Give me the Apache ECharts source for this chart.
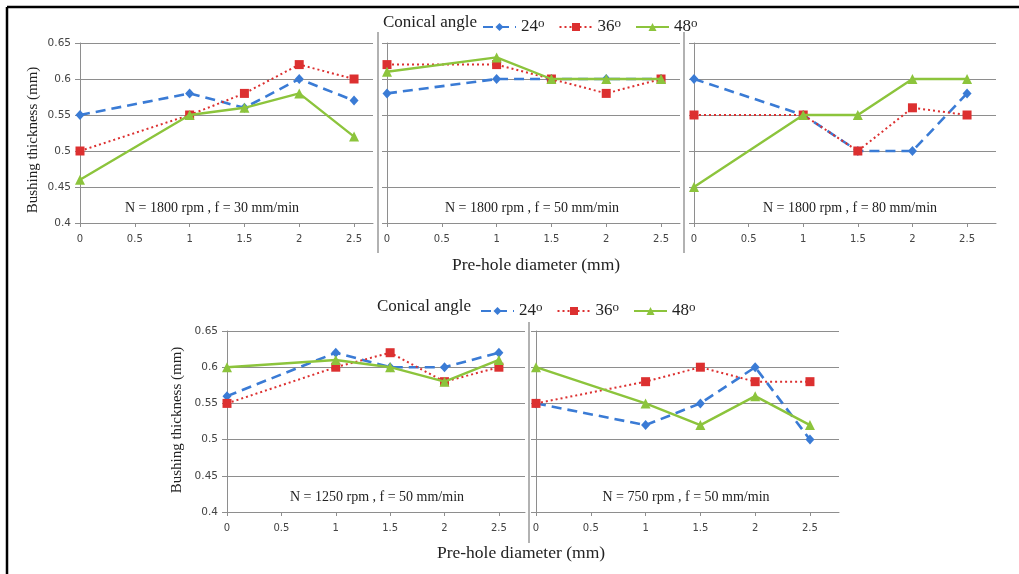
<!DOCTYPE html>
<html>
<head>
<meta charset="utf-8" />
<title>Bushing thickness vs pre-hole diameter</title>
<style>
    html, body { margin: 0; padding: 0; background: #fff; }
    #chart { width: 1019px; height: 574px; }
</style>
</head>
<body>
<div id="chart"></div>
<script src="https://cdn.jsdelivr.net/npm/echarts@6/dist/echarts.min.js"></script>
<script>
    // pre-hole diameter (mm) where thickness was measured
    var diameters = [0, 1, 1.5, 2, 2.5];
    // axis ticks
    var xTicks = [0, 0.5, 1, 1.5, 2, 2.5];
    var yTicks = [0.4, 0.45, 0.5, 0.55, 0.6, 0.65];
    // conical angles (deg)
    var angles = ['24', '36', '48'];
    // panel captions
    var captions = [
        'N = 1800 rpm , f = 30 mm/min',
        'N = 1800 rpm , f = 50 mm/min',
        'N = 1800 rpm , f = 80 mm/min',
        'N = 1250 rpm , f = 50 mm/min',
        'N = 750 rpm , f = 50 mm/min'
    ];

    // bushing thickness (mm)
    var n1800f30_24 = [0.55, 0.58, 0.56, 0.60, 0.57];
    var n1800f30_36 = [0.50, 0.55, 0.58, 0.62, 0.60];
    var n1800f30_48 = [0.46, 0.55, 0.56, 0.58, 0.52];

    var n1800f50_24 = [0.58, 0.60, 0.60, 0.60, 0.60];
    var n1800f50_36 = [0.62, 0.62, 0.60, 0.58, 0.60];
    var n1800f50_48 = [0.61, 0.63, 0.60, 0.60, 0.60];

    var n1800f80_24 = [0.60, 0.55, 0.50, 0.50, 0.58];
    var n1800f80_36 = [0.55, 0.55, 0.50, 0.56, 0.55];
    var n1800f80_48 = [0.45, 0.55, 0.55, 0.60, 0.60];

    var n1250f50_24 = [0.56, 0.62, 0.60, 0.60, 0.62];
    var n1250f50_36 = [0.55, 0.60, 0.62, 0.58, 0.60];
    var n1250f50_48 = [0.60, 0.61, 0.60, 0.58, 0.61];

    var n750f50_24 = [0.55, 0.52, 0.55, 0.60, 0.50];
    var n750f50_36 = [0.55, 0.58, 0.60, 0.58, 0.58];
    var n750f50_48 = [0.60, 0.55, 0.52, 0.56, 0.52];

    var panelData = [
        [n1800f30_24, n1800f30_36, n1800f30_48],
        [n1800f50_24, n1800f50_36, n1800f50_48],
        [n1800f80_24, n1800f80_36, n1800f80_48],
        [n1250f50_24, n1250f50_36, n1250f50_48],
        [n750f50_24, n750f50_36, n750f50_48]
    ];

    // panel placement
    var panels = [
        { left: 80,  top: 43,  width: 293, height: 180, xMax: 2.673, yLabels: true,  capX: 212 },
        { left: 387, top: 43,  width: 293, height: 180, xMax: 2.673, yLabels: false, capX: 532 },
        { left: 694, top: 43,  width: 302, height: 180, xMax: 2.765, yLabels: false, capX: 850 },
        { left: 227, top: 331, width: 298, height: 181, xMax: 2.74,  yLabels: true,  capX: 377 },
        { left: 536, top: 331, width: 303, height: 181, xMax: 2.765, yLabels: false, capX: 686 }
    ];

    var colors = ['#3a7bd5', '#dc3030', '#8cc43c'];
    var lineTypes = [[10, 6], [2, 3], 'solid'];
    var lineWidths = [2.6, 2, 2.4];
    var symbols = ['diamond', 'rect', 'triangle'];
    var symbolSizes = [[9, 10], 9, 10];

    var gridColor = '#8e8e8e';
    var serif = '"Liberation Serif", "DejaVu Serif", serif';
    var sans = '"DejaVu Sans", Verdana, sans-serif';

    var grids = [], xAxes = [], yAxes = [], series = [], graphics = [];

    panels.forEach(function (p, i) {
        grids.push({ left: p.left, top: p.top, width: p.width, height: p.height, containLabel: false });
        xAxes.push({
            type: 'value', gridIndex: i, min: 0, max: p.xMax,
            splitLine: { show: false },
            axisLine: { show: true, onZero: false, lineStyle: { color: gridColor, width: 1 } },
            axisTick: { show: true, length: 4, customValues: xTicks, lineStyle: { color: gridColor } },
            axisLabel: {
                customValues: xTicks, margin: 11, color: '#444', fontFamily: sans, fontSize: 10,
                formatter: function (v) {
                    return Math.abs(v * 2 - Math.round(v * 2)) < 1e-6 ? String(v) : '';
                }
            }
        });
        yAxes.push({
            type: 'value', gridIndex: i, min: 0.4, max: 0.65, interval: 0.05,
            splitLine: { show: true, lineStyle: { color: gridColor, width: 1 } },
            axisLine: { show: true, lineStyle: { color: gridColor, width: 1 } },
            axisTick: { show: true, length: 5, lineStyle: { color: gridColor } },
            axisLabel: {
                show: p.yLabels, margin: 9, color: '#444', fontFamily: sans, fontSize: 10.5,
                formatter: function (v) { return String(+v.toFixed(2)); }
            }
        });
        panelData[i].forEach(function (vals, k) {
            series.push({
                name: angles[k], type: 'line', xAxisIndex: i, yAxisIndex: i,
                data: diameters.map(function (d, j) { return [d, vals[j]]; }),
                symbol: symbols[k], symbolSize: symbolSizes[k], showAllSymbol: true,
                color: colors[k],
                itemStyle: { color: colors[k] },
                lineStyle: { color: colors[k], width: lineWidths[k], type: lineTypes[k] },
                z: 2 + k, animation: false
            });
        });
        graphics.push({
            type: 'text', x: p.capX, y: p.top + p.height - 15,
            style: { text: captions[i], font: '14px ' + serif, fill: '#222', textAlign: 'center', textVerticalAlign: 'middle' }
        });
    });

    // axis titles
    graphics.push(
        { type: 'text', x: 33, y: 140, rotation: Math.PI / 2,
          style: { text: 'Bushing thickness (mm)', font: '15px ' + serif, fill: '#222', textAlign: 'center', textVerticalAlign: 'middle' } },
        { type: 'text', x: 177, y: 420, rotation: Math.PI / 2,
          style: { text: 'Bushing thickness (mm)', font: '15px ' + serif, fill: '#222', textAlign: 'center', textVerticalAlign: 'middle' } },
        { type: 'text', x: 536, y: 265,
          style: { text: 'Pre-hole diameter (mm)', font: '17.5px ' + serif, fill: '#222', textAlign: 'center', textVerticalAlign: 'middle' } },
        { type: 'text', x: 521, y: 553,
          style: { text: 'Pre-hole diameter (mm)', font: '17.5px ' + serif, fill: '#222', textAlign: 'center', textVerticalAlign: 'middle' } },
        { type: 'text', x: 383, y: 23,
          style: { text: 'Conical angle', font: '17px ' + serif, fill: '#222', textAlign: 'left', textVerticalAlign: 'middle' } },
        { type: 'text', x: 377, y: 307,
          style: { text: 'Conical angle', font: '17px ' + serif, fill: '#222', textAlign: 'left', textVerticalAlign: 'middle' } },
        // panel separators
        { type: 'line', shape: { x1: 378, y1: 32, x2: 378, y2: 253 }, style: { stroke: '#999', lineWidth: 1.5 } },
        { type: 'line', shape: { x1: 684, y1: 32, x2: 684, y2: 253 }, style: { stroke: '#999', lineWidth: 1.5 } },
        { type: 'line', shape: { x1: 529, y1: 322, x2: 529, y2: 543 }, style: { stroke: '#999', lineWidth: 1.5 } },
        // frame
        { type: 'line', shape: { x1: 7, y1: 7, x2: 1019, y2: 7 }, style: { stroke: '#000', lineWidth: 2.5 } },
        { type: 'line', shape: { x1: 7, y1: 7, x2: 7, y2: 574 }, style: { stroke: '#000', lineWidth: 2.5 } }
    );

    function legendAt(left, top) {
        return {
            left: left, top: top, itemWidth: 33, itemHeight: 10, itemGap: 14,
            data: angles,
            formatter: function (name) { return '{n|' + name + '}{s|o}'; },
            textStyle: {
                color: '#222',
                rich: {
                    n: { fontFamily: serif, fontSize: 17, color: '#222', lineHeight: 20 },
                    s: { fontFamily: serif, fontSize: 13, color: '#222', verticalAlign: 'top', lineHeight: 6 }
                }
            }
        };
    }

    var myChart = echarts.init(document.getElementById('chart'));
    myChart.setOption({
        backgroundColor: '#fff',
        animation: false,
        grid: grids,
        xAxis: xAxes,
        yAxis: yAxes,
        legend: [legendAt(477, 12), legendAt(475, 296)],
        series: series,
        graphic: graphics
    });
</script>
</body>
</html>
